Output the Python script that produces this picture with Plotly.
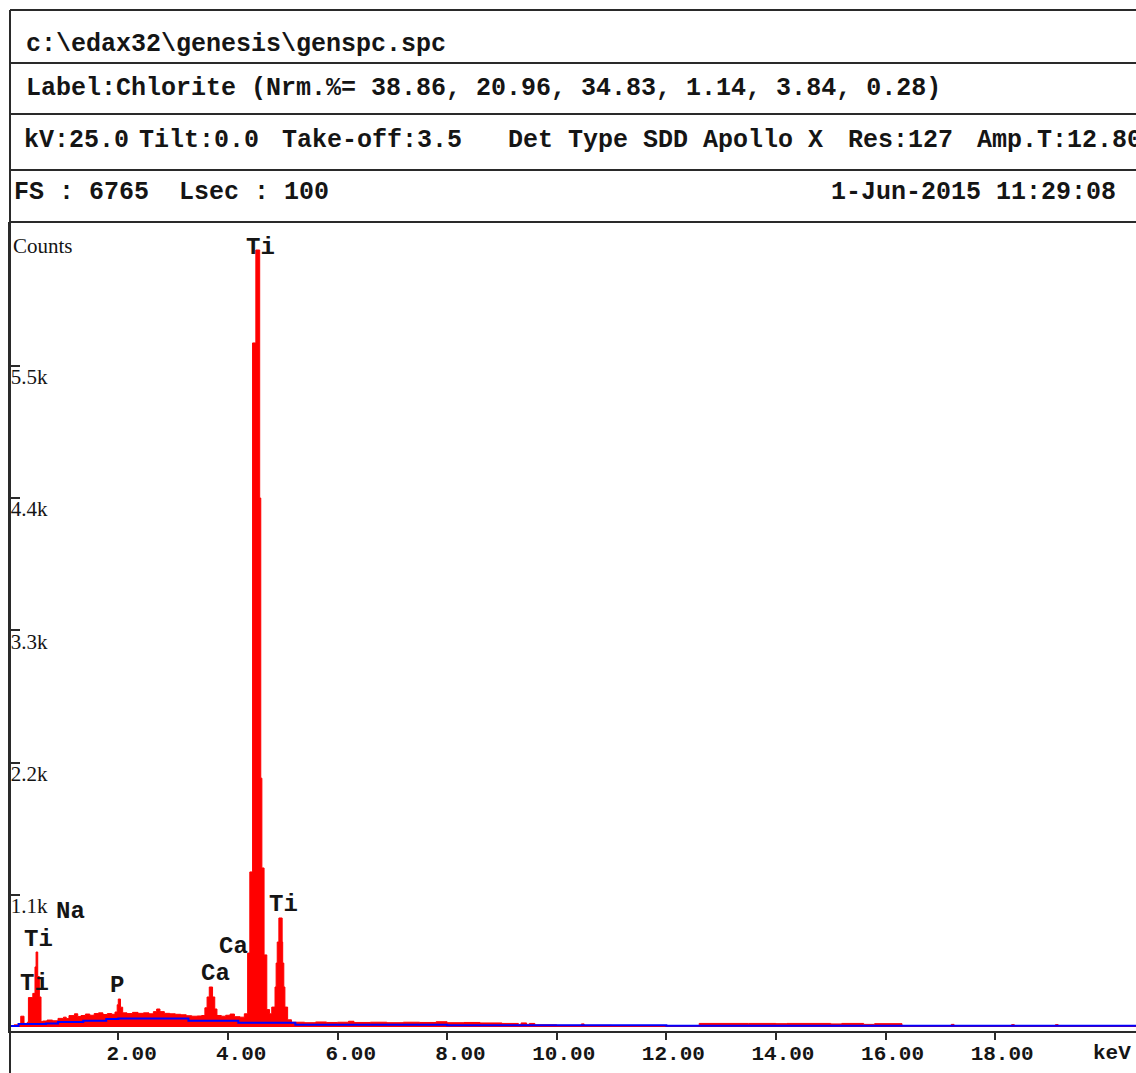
import plotly.graph_objects as go

# ---------------- data ----------------
spectrum_kev = [
    0.00, 0.10, 0.22, 0.28, 0.34, 0.36, 0.44, 0.48, 0.50, 0.53, 0.56, 0.59, 0.62,
    0.70, 0.80, 0.90, 1.00, 1.05, 1.10, 1.20, 1.26, 1.32, 1.40, 1.48, 1.56, 1.64,
    1.72, 1.80, 1.88, 1.94, 1.98, 2.00, 2.04, 2.08, 2.16, 2.26, 2.36, 2.46, 2.56,
    2.64, 2.70, 2.76, 2.84, 2.94, 3.04, 3.14, 3.24, 3.34, 3.44, 3.52, 3.58, 3.62,
    3.66, 3.72, 3.76, 3.80, 3.88, 3.96, 4.04, 4.12, 4.22, 4.30, 4.36, 4.40, 4.45,
    4.51, 4.58, 4.60, 4.62, 4.66, 4.71, 4.76, 4.80, 4.86, 4.88, 4.90, 4.93, 4.99,
    5.00, 5.02, 5.04, 5.09, 5.16, 5.40, 5.60, 5.80, 6.00, 6.20, 6.30, 6.60, 6.90,
    7.20, 7.50, 7.80, 8.00, 8.30, 8.60, 9.00, 9.30, 9.35, 9.45, 9.50, 9.60, 10.00,
    10.45, 10.50, 11.00, 12.00, 12.60, 13.50, 14.00, 14.20, 15.00, 15.20, 15.60,
    15.80, 16.30, 17.00, 17.20, 17.25, 18.00, 18.30, 18.35, 19.00, 19.10, 19.15,
    20.60,
]
spectrum_counts = [
    12, 18, 90, 30, 40, 245, 280, 500, 624, 420, 250, 45, 50,
    58, 52, 72, 82, 70, 95, 110, 88, 96, 108, 98, 112, 118,
    104, 112, 106, 125, 185, 233, 165, 118, 112, 122, 114, 118, 110,
    128, 150, 128, 114, 110, 106, 102, 94, 90, 92, 96, 160, 250,
    333, 250, 150, 96, 90, 98, 108, 86, 82, 110, 615, 1290, 5690,
    6463, 4400, 2070, 1323, 600, 145, 110, 166, 333, 532, 707, 907, 707,
    532, 333, 166, 60, 40, 36, 42, 38, 40, 48, 38, 40, 36,
    40, 38, 44, 36, 38, 34, 30, 22, 34, 22, 30, 18, 14,
    26, 14, 12, 12, 30, 30, 28, 30, 26, 30, 22,
    28, 10, 10, 22, 10, 10, 20, 10, 10, 20, 10,
    10,
]
background_kev = [0.00, 0.18, 0.68, 0.90, 1.36, 1.78, 2.00, 3.28, 4.19, 5.23, 8.00, 12.00, 20.60]
background_counts = [8, 25, 30, 42, 52, 66, 72, 52, 36, 20, 14, 10, 10]

peak_labels = ["Na", "Ti", "Ti", "P", "Ca", "Ca", "Ti", "Ti"]
peak_label_kev = [1.12, 0.535, 0.48, 1.975, 3.78, 4.11, 4.60, 5.02]
peak_label_counts = [965, 732, 366, 349, 449, 674, 6487, 1023]

x_tick_vals = [2, 4, 6, 8, 10, 12, 14, 16, 18]
x_tick_text = ["2.00", "4.00", "6.00", "8.00", "10.00", "12.00", "14.00", "16.00", "18.00"]
x_unit = "keV"
y_tick_vals = [1100, 2200, 3300, 4400, 5500]
y_tick_text = ["1.1k", "2.2k", "3.3k", "4.4k", "5.5k"]
y_title = "Counts"

header_file = "c:\\edax32\\genesis\\genspc.spc"
header_label = "Label:Chlorite (Nrm.%= 38.86, 20.96, 34.83, 1.14, 3.84, 0.28)"
header_params = ["kV:25.0", "Tilt:0.0", "Take-off:3.5", "Det Type SDD Apollo X", "Res:127", "Amp.T:12.80"]
header_fs = "FS : 6765  Lsec : 100"
header_date = "1-Jun-2015 11:29:08"

# ---------------- layout geometry ----------------
W, H = 1136, 1073
ML, MR, MT, MB = 10, 0, 222, 42
PW = W - ML - MR
PH = H - MT - MB
X_RANGE = [0.024, 20.57]
Y_RANGE = [-33, 6696]


def px(xp):
    return (xp - ML) / PW


def py(yp):
    return (H - MB - yp) / PH


def nb(s):
    return s.replace(" ", "\u00a0")


MONO = "Liberation Mono"
SERIF = "Liberation Serif"
LINE = "#2a2a2a"
TXT = "#151515"

fig = go.Figure()

fig.add_trace(go.Scatter(
    x=spectrum_kev, y=spectrum_counts, mode="lines", line_shape="hv",
    line=dict(color="#ff0000", width=1), fill="tozeroy", fillcolor="#ff0000",
    hoverinfo="skip",
))
fig.add_trace(go.Scatter(
    x=background_kev, y=background_counts, mode="lines", line_shape="hv",
    line=dict(color="#0000ff", width=2), hoverinfo="skip",
))

shapes = []
# header horizontal rules
for yy in [10, 63, 114, 170, 222]:
    shapes.append(dict(type="line", xref="paper", yref="paper",
                       x0=px(10), x1=px(1136), y0=py(yy), y1=py(yy),
                       line=dict(color=LINE, width=2)))
# left border over full height
shapes.append(dict(type="line", xref="paper", yref="paper",
                   x0=px(10), x1=px(10), y0=py(10), y1=py(1073),
                   line=dict(color=LINE, width=2)))

annotations = []


def hdr(text, x, y, anchor="left"):
    annotations.append(dict(text="<b>" + nb(text) + "</b>", xref="paper", yref="paper",
                            x=px(x), y=py(y), xanchor=anchor, yanchor="middle",
                            showarrow=False,
                            font=dict(family=MONO, size=25, color=TXT)))


hdr(header_file, 24, 44)
hdr(header_label, 24, 88)
for t, xx in zip(header_params, [22, 137, 280, 506, 846, 975]):
    hdr(t, xx, 140)
hdr(header_fs, 12, 193)
hdr(header_date, 1118, 193, anchor="right")

# axis title "Counts"
annotations.append(dict(text=y_title, xref="paper", yref="paper", x=px(11), y=py(246),
                        xanchor="left", yanchor="middle", showarrow=False,
                        font=dict(family=SERIF, size=21, color=TXT)))
# unit label
annotations.append(dict(text="<b>" + x_unit + "</b>", xref="x", yref="paper", x=20.0, y=py(1053),
                        xanchor="center", yanchor="middle", xshift=7, showarrow=False,
                        font=dict(family=MONO, size=21, color=TXT)))

# peak labels
for lab, kx, ky in zip(peak_labels, peak_label_kev, peak_label_counts):
    annotations.append(dict(text="<b>" + lab + "</b>", x=kx, y=ky, xref="x", yref="y",
                            xanchor="center", yanchor="middle", showarrow=False,
                            font=dict(family=MONO, size=24, color=TXT)))

fig.update_layout(
    width=W, height=H,
    margin=dict(l=ML, r=MR, t=MT, b=MB, pad=0),
    paper_bgcolor="white", plot_bgcolor="white",
    showlegend=False,
    shapes=shapes, annotations=annotations,
)

fig.update_xaxes(
    range=X_RANGE, autorange=False, automargin=False,
    showgrid=False, zeroline=False,
    showline=True, linecolor=LINE, linewidth=2,
    ticks="outside", ticklen=7, tickwidth=2, tickcolor=LINE,
    tickvals=x_tick_vals,
    ticktext=["<b>" + nb(t.rjust(5)) + "</b>" for t in x_tick_text],
    ticklabelshift=7, ticklabelstandoff=-5,
    tickfont=dict(family=MONO, size=21, color=TXT),
)
fig.update_yaxes(
    range=Y_RANGE, autorange=False, automargin=False,
    showgrid=False, zeroline=False,
    showline=True, linecolor=LINE, linewidth=2,
    ticks="inside", ticklen=10, tickwidth=2, tickcolor=LINE,
    tickvals=y_tick_vals, ticktext=y_tick_text,
    ticklabelposition="inside", ticklabelshift=11, ticklabelstandoff=-8,
    tickfont=dict(family=SERIF, size=21, color=TXT),
)

fig.write_html("out.html")
